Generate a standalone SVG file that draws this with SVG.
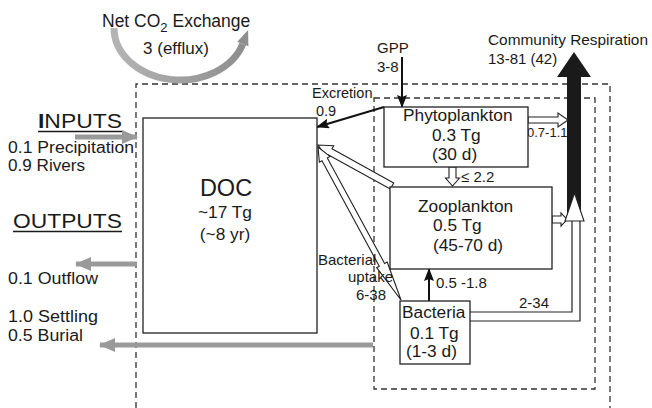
<svg xmlns="http://www.w3.org/2000/svg" width="652" height="408" viewBox="0 0 652 408">
<style>
text{font-family:"Liberation Sans",Arial,sans-serif;fill:#1a1a1a}
.dash{fill:none;stroke:#333;stroke-width:1.3;stroke-dasharray:6 4}
.box{fill:#fff;stroke:#222;stroke-width:1.3}
.hollow{fill:#fff;stroke:#222;stroke-width:1.1}
.gray{stroke:#9a9a9a;stroke-width:5;fill:none}
.blk{stroke:#111;stroke-width:2;fill:none}
.lbl{font-size:15px}
.big{font-size:17.3px}
.side{font-size:16px}
.head{font-size:20px}
</style>
<defs>
<marker id="bh" viewBox="0 0 13 10" refX="12" refY="5" markerWidth="13" markerHeight="10" orient="auto" markerUnits="userSpaceOnUse">
<path d="M0,0 L13,5 L0,10 L2,5 z" fill="#111"/>
</marker>
<marker id="gh" viewBox="0 0 16 14" refX="15" refY="7" markerWidth="16" markerHeight="14" orient="auto" markerUnits="userSpaceOnUse">
<path d="M0,0 L16,7 L0,14 z" fill="#9a9a9a"/>
</marker>
<linearGradient id="arcg" x1="0" y1="0" x2="1" y2="0">
<stop offset="0" stop-color="#b4b4b4"/>
<stop offset="1" stop-color="#8e8e8e"/>
</linearGradient>
</defs>

<!-- system boundaries -->
<g id="boundaries">
<path class="dash" d="M136 408 V84 H610 V408"/>
<rect class="dash" x="374" y="98" width="221" height="291"/>
</g>

<!-- connectors -->
<g id="connectors">
<!-- net CO2 exchange -->
<path d="M114 28 A66 52 0 0 0 242.8 44" fill="none" stroke="url(#arcg)" stroke-width="7"/>
<polygon points="237.3,41.7 248.1,30 248.4,46.3" fill="#8e8e8e"/>
<!-- inputs / outputs -->
<line class="gray" x1="75" y1="137" x2="137" y2="137" marker-end="url(#gh)"/>
<line class="gray" x1="137" y1="264" x2="76" y2="264" marker-end="url(#gh)"/>
<line class="gray" x1="373" y1="345" x2="100" y2="345" marker-end="url(#gh)"/>
<!-- GPP -->
<line class="blk" x1="402" y1="57" x2="402" y2="107" marker-end="url(#bh)"/>
<!-- excretion -->
<line class="blk" x1="384" y1="107" x2="317" y2="127" marker-end="url(#bh)"/>
<!-- bacteria to zooplankton -->
<line class="blk" x1="429" y1="301" x2="429" y2="269" marker-end="url(#bh)"/>
<!-- zooplankton to DOC (hollow) -->
<polygon class="hollow" points="393.7,182.9 332,148.7 333.7,145.7 318,145 326.9,157.9 328.6,154.9 390.3,189.1"/>
<!-- bacterial uptake (hollow, two heads) -->
<polygon class="hollow" points="318,147 319.4,162.2 322,160.7 379.3,266.3 376.7,267.7 401,300 387.2,262 384.6,263.4 327.3,157.9 329.9,156.4"/>
<!-- phytoplankton to zooplankton -->
<polygon class="hollow" points="449,167 456,167 456,178 459.5,178 452.5,186 445.5,178 449,178"/>
<!-- community respiration (black) -->
<polygon points="567,221 567,77 557,77 574,52 591,77 581,77 581,221" fill="#1a1a1a"/>
<!-- phytoplankton to respiration -->
<polygon class="hollow" points="528,117 558,117 558,113 568,120 558,127 558,123 528,123"/>
<!-- zooplankton to respiration -->
<polygon class="hollow" points="552,216 561,216 561,213 567,219.5 561,226 561,223 552,223"/>
<!-- bacteria to respiration -->
<path d="M470 312 H572 V221 M470 321 H580 V221" fill="none" stroke="#222" stroke-width="1.2"/>
<polygon class="hollow" points="565,221 574.5,193 584,221"/>
<!-- connector labels -->
<text class="lbl" x="377" y="53">GPP</text>
<text class="lbl" x="377" y="71.5">3-8</text>
<text x="312" y="98" style="font-size:14.5px">Excretion</text>
<text x="316" y="116" style="font-size:14.5px">0.9</text>
<text x="527" y="137" style="font-size:13px">0.7-1.1</text>
<text class="lbl" x="461" y="182">≤ 2.2</text>
<text class="lbl" x="436" y="288">0.5 -1.8</text>
<text class="lbl" x="519" y="308">2-34</text>
<text class="lbl" x="318" y="265">Bacterial</text>
<text class="lbl" x="348" y="282">uptake</text>
<text class="lbl" x="356" y="300">6-38</text>
</g>

<g id="co2">
<text x="102" y="27" style="font-size:17.5px">Net CO<tspan dy="5" style="font-size:13px">2</tspan><tspan dy="-5"> Exchange</tspan></text>
<text x="176" y="54" text-anchor="middle" style="font-size:17px">3 (efflux)</text>
</g>

<g id="respiration">
<text x="488" y="45" style="font-size:15px" textLength="160" lengthAdjust="spacingAndGlyphs">Community Respiration</text>
<text x="488" y="64" style="font-size:15px">13-81 (42)</text>
</g>

<g id="inputs">
<text class="head" x="38" y="128" textLength="84" lengthAdjust="spacingAndGlyphs"><tspan font-weight="bold">I</tspan>NPUTS</text>
<line x1="38" y1="131.5" x2="122" y2="131.5" stroke="#1a1a1a" stroke-width="1.5"/>
<text class="side" x="8" y="152.5" textLength="126" lengthAdjust="spacingAndGlyphs">0.1 Precipitation</text>
<text class="side" x="8" y="171" textLength="77" lengthAdjust="spacingAndGlyphs">0.9 Rivers</text>
</g>

<g id="outputs">
<text class="head" x="13" y="228" textLength="109" lengthAdjust="spacingAndGlyphs">OUTPUTS</text>
<line x1="13" y1="231.5" x2="122" y2="231.5" stroke="#1a1a1a" stroke-width="1.5"/>
<text class="side" x="8" y="284" textLength="90" lengthAdjust="spacingAndGlyphs">0.1 Outflow</text>
<text class="side" x="8" y="322" textLength="90" lengthAdjust="spacingAndGlyphs">1.0 Settling</text>
<text class="side" x="8" y="341" textLength="75" lengthAdjust="spacingAndGlyphs">0.5 Burial</text>
</g>

<g id="doc">
<rect class="box" x="143" y="118" width="174" height="215"/>
<text x="226" y="196" text-anchor="middle" style="font-size:23.5px">DOC</text>
<text x="225" y="218" text-anchor="middle" class="big">~17 Tg</text>
<text x="225" y="240" text-anchor="middle" class="big">(~8 yr)</text>
</g>

<g id="phytoplankton">
<rect class="box" x="384" y="107" width="144" height="60"/>
<text class="big" x="403" y="121">Phytoplankton</text>
<text class="big" x="432" y="141">0.3 Tg</text>
<text class="big" x="432" y="160">(30 d)</text>
</g>

<g id="zooplankton">
<rect class="box" x="390" y="187" width="162" height="82"/>
<text class="big" x="418" y="212">Zooplankton</text>
<text class="big" x="433" y="231">0.5 Tg</text>
<text class="big" x="433" y="251">(45-70 d)</text>
</g>

<g id="bacteria">
<rect class="box" x="400" y="301" width="70" height="63"/>
<text class="big" x="402" y="318">Bacteria</text>
<text class="big" x="410" y="339">0.1 Tg</text>
<text class="big" x="406" y="357">(1-3 d)</text>
</g>
</svg>
